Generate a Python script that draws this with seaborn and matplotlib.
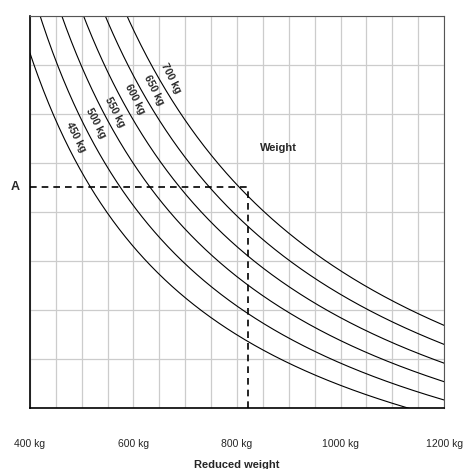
import numpy as np
import pandas as pd
import seaborn as sns
import matplotlib.pyplot as plt

sns.set_style("white")
plt.rcParams['font.family'] = ['Liberation Sans', 'DejaVu Sans']

# curves: y = A / (x/W - c) - B  (parameters fitted to points)
weights = [450, 500, 550, 600, 650, 700]
A = 7.85
c = 0.1456
B = 3.318
reduced = np.linspace(400, 1200, 400)
a_level = 4.51
a_reduced = 821
label_pos = [(489, 5.53), (528, 5.82), (564, 6.04), (603, 6.31), (640, 6.49), (673, 6.73)]

rows = []
for w in weights:
    for x in reduced:
        rows.append({"x": x, "y": A / (x / w - c) - B, "w": w})
df = pd.DataFrame(rows)

fig = plt.figure(figsize=(4.68, 4.69), dpi=100)
ax = fig.add_axes([0.064, 0.130, 0.885, 0.836])

sns.lineplot(data=df, x="x", y="y", units="w", estimator=None, color="black",
             lw=0.8, ax=ax)

ax.set_xlim(400, 1200)
ax.set_ylim(0, 8)
ax.set_xticks(np.arange(400, 1201, 50), minor=True)
ax.set_yticks(np.arange(0, 8.1, 1))
ax.set_xticks(np.arange(400, 1201, 200))
ax.set_xticklabels([f"{v} kg" for v in range(400, 1201, 200)], fontsize=7.5)
ax.set_yticklabels([])
ax.grid(True, which="both", color="#cccccc", lw=0.9)
ax.set_axisbelow(True)
ax.tick_params(axis="x", which="major", direction="out", length=4, pad=18,
               color="black")
ax.tick_params(axis="x", which="minor", length=0)
ax.tick_params(axis="y", length=0)
for s in ["top", "right"]:
    ax.spines[s].set_color("#555555")
    ax.spines[s].set_linewidth(0.8)
for s in ["left", "bottom"]:
    ax.spines[s].set_color("black")
    ax.spines[s].set_linewidth(1.2)
ax.set_ylabel("")

ax.plot([400, a_reduced], [a_level, a_level], color="black", ls=(0, (4, 3)), lw=1.2)
ax.plot([a_reduced, a_reduced], [0, a_level], color="black", ls=(0, (4, 3)), lw=1.2,
        clip_on=False)
ax.text(-0.035, a_level, "A", transform=ax.get_yaxis_transform(), fontsize=9,
        fontweight="bold", ha="center", va="center")
ax.text(880, 5.3, "Weight", fontsize=8, fontweight="bold", ha="center", va="center")

for w, (lx, ly) in zip(weights, label_pos):
    ax.text(lx, ly, f"{w} kg", rotation=-63, fontsize=7.5, fontweight="bold",
            ha="center", va="center")

ax.set_xlabel("Reduced weight", fontsize=8, fontweight="bold", labelpad=8)
fig.savefig("out.png", dpi=100)
